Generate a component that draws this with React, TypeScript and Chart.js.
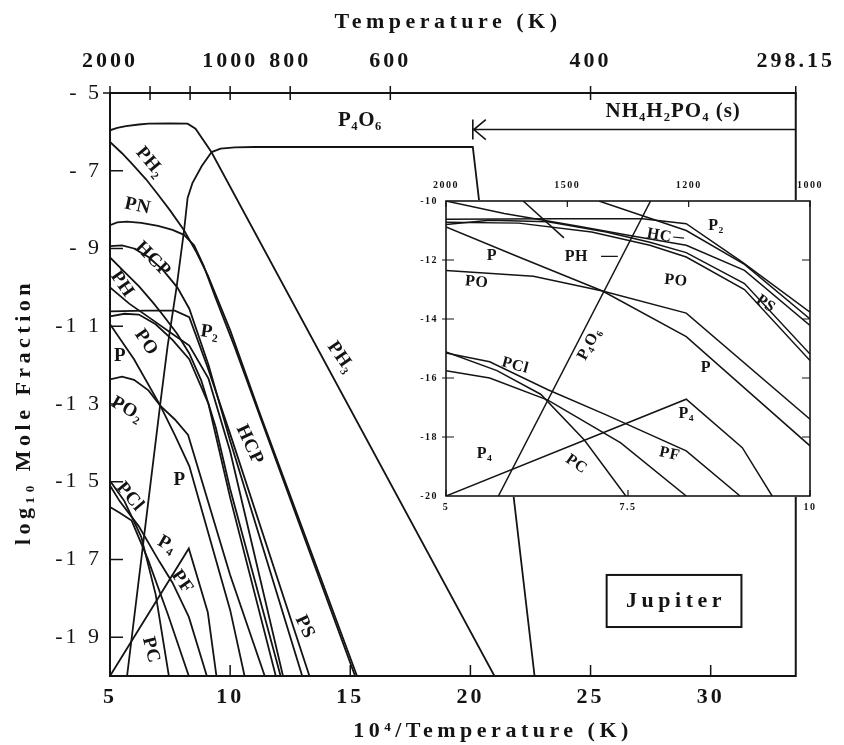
import React, { useEffect, useRef } from "react";
import { Chart, registerables } from "chart.js";

Chart.register(...registerables);

type Pt = [number, number];

const SERIF = '"Liberation Serif", "DejaVu Serif", "Times New Roman", serif';
const INK = "#141414";

// ---------- main chart data (x = 10^4/T, y = log10 mole fraction) ----------
const XMAX = 1e4 / 298.15;

const PH3: Pt[] = [[5, -5.96], [5.3, -5.9], [5.66, -5.85], [6.2, -5.81], [6.6, -5.79], [7.5, -5.78], [8.23, -5.79], [8.56, -5.92], [9.22, -6.52], [21.0, -20]];
const P4O6: Pt[] = [[5.71, -20], [6.4, -16.5], [7.1, -12.96], [7.4, -11.5], [7.77, -10.0], [8.08, -8.55], [8.23, -7.7], [8.43, -7.32], [8.82, -6.88], [9.23, -6.52], [9.6, -6.43], [10.2, -6.4], [11.0, -6.39], [20.1, -6.39], [22.67, -20]];
const PH2: Pt[] = [[5, -6.26], [5.5, -6.55], [5.91, -6.82], [6.5, -7.22], [6.98, -7.6], [7.5, -8.02], [8.08, -8.53], [8.6, -9.1], [9.07, -9.69], [10.0, -11.1], [11.21, -13.2], [15.28, -20]];
const PN: Pt[] = [[5, -8.4], [5.3, -8.33], [5.7, -8.31], [6.3, -8.34], [7.0, -8.42], [7.6, -8.52], [8.08, -8.65], [8.5, -8.92], [8.9, -9.45], [9.4, -10.28], [10.2, -11.55], [11.3, -13.42], [15.2, -20]];
const HCP: Pt[] = [[5, -8.94], [5.5, -8.92], [6.0, -9.0], [6.6, -9.22], [7.2, -9.55], [7.8, -10.0], [8.3, -10.55], [9.1, -12.0], [10, -13.95], [13.0, -20]];
const PS: Pt[] = [[5, -10.0], [5.8, -10.42], [6.8, -10.85], [7.6, -11.2], [8.3, -11.5], [9.1, -12.35], [10, -14.22], [12.2, -20]];
const PH: Pt[] = [[5, -9.23], [5.6, -9.6], [6.2, -9.97], [6.8, -10.4], [7.25, -10.75], [7.8, -11.2], [8.3, -11.7], [8.8, -12.4], [9.4, -13.6], [10, -15.19], [12.1, -20]];
const P2: Pt[] = [[5, -10.62], [6.5, -10.6], [7.7, -10.6], [8.3, -10.77], [9.07, -12.07], [10, -13.77], [13.3, -20]];
const PO: Pt[] = [[5, -10.75], [5.6, -10.68], [6.2, -10.7], [6.9, -10.95], [7.6, -11.35], [8.3, -11.85], [9.1, -13.0], [10, -15.41], [11.9, -20]];
const P: Pt[] = [[5, -10.95], [6.0, -11.85], [7.1, -13.05], [7.7, -13.8], [8.3, -14.6], [10, -18.3], [10.6, -20]];
const PO2: Pt[] = [[5, -12.37], [5.5, -12.3], [6.0, -12.38], [6.6, -12.65], [7.1, -13.05], [7.7, -13.4], [8.25, -13.8], [10, -17.4], [11.44, -20]];
const PC: Pt[] = [[5, -14.98], [5.6, -15.5], [6.3, -16.42], [6.9, -17.9], [7.45, -20]];
const PF: Pt[] = [[5, -15.1], [5.4, -15.5], [6.2, -16.15], [7.05, -17.05], [7.6, -17.6], [8.28, -18.48], [9.03, -20]];
const PCl: Pt[] = [[5, -15.65], [5.4, -15.8], [5.9, -16.0], [6.58, -17.0], [7.4, -18.4], [8.28, -20]];
const P4: Pt[] = [[5, -20], [8.28, -16.72], [9.07, -18.36], [9.43, -20]];

const mainSeries: { name: string; pts: Pt[] }[] = [
  { name: "PH3", pts: PH3 }, { name: "P4O6", pts: P4O6 }, { name: "PH2", pts: PH2 },
  { name: "PN", pts: PN }, { name: "HCP", pts: HCP }, { name: "PS", pts: PS },
  { name: "PH", pts: PH }, { name: "P2", pts: P2 }, { name: "PO", pts: PO },
  { name: "P", pts: P }, { name: "PO2", pts: PO2 }, { name: "PC", pts: PC },
  { name: "PF", pts: PF }, { name: "PCl", pts: PCl }, { name: "P4", pts: P4 },
];

const bottomTicks = [5, 10, 15, 20, 25, 30];
const bottomTickLabels = ["5", "10", "15", "20", "25", "30"];
const topTempTicks = [2000, 1500, 1200, 1000, 800, 600, 400, 298.15];
const topTempLabels = ["2000", "", "", "1000", "800", "600", "400", "298.15"];
const yTicks = [-5, -7, -9, -11, -13, -15, -17, -19];
const yTickLabels = ["- 5", "- 7", "- 9", "-1 1", "-1 3", "-1 5", "-1 7", "-1 9"];

const mainLabels = [
  { t: "PH₂", x: 6.66, y: -6.78, r: 50 },
  { t: "PN", x: 6.15, y: -7.91, r: 12 },
  { t: "HCP", x: 6.78, y: -9.28, r: 45 },
  { t: "PH", x: 5.5, y: -9.92, r: 55 },
  { t: "PO", x: 6.5, y: -11.42, r: 55 },
  { t: "P", x: 5.42, y: -11.78, r: 0 },
  { t: "P₂", x: 9.15, y: -11.16, r: 8 },
  { t: "PO₂", x: 5.71, y: -13.14, r: 30 },
  { t: "P", x: 7.89, y: -14.95, r: 0 },
  { t: "HCP", x: 10.81, y: -14.05, r: 65 },
  { t: "PCl", x: 5.83, y: -15.39, r: 50 },
  { t: "P₄", x: 7.37, y: -16.62, r: 30 },
  { t: "PF", x: 8.0, y: -17.58, r: 55 },
  { t: "PC", x: 6.7, y: -19.33, r: 75 },
  { t: "PS", x: 13.1, y: -18.74, r: 65 },
  { t: "PH₃", x: 14.6, y: -11.8, r: 55 },
];
const p4o6Label = { t: "P₄O₆", x: 15.4, y: -5.72 };
const nhLabel = { t: "NH₄H₂PO₄ (s)", x: 28.44, y: -5.49 };
const nhArrow = { x: 20.1, y: -5.94 };
const jupiterBox = { t: "Jupiter", x1: 25.67, x2: 31.28, y1: -17.4, y2: -18.74 };

// ---------- inset data ----------
const insP2: Pt[] = [[5, -10.62], [6.5, -10.6], [7.7, -10.6], [8.3, -10.77], [9.07, -12.07], [10, -13.77]];
const insHC: Pt[] = [[7.1, -10.0], [7.7, -10.5], [8.3, -11.0], [9.1, -12.15], [10, -14.0]];
const insPS: Pt[] = [[5, -10.0], [5.8, -10.42], [6.8, -10.85], [7.6, -11.2], [8.3, -11.5], [9.1, -12.35], [10, -14.22]];
const insPH: Pt[] = [[5, -10.8], [5.6, -10.65], [6.4, -10.7], [7.2, -11.05], [7.8, -11.4], [8.3, -11.75], [9.1, -12.8], [10, -15.19]];
const insPO: Pt[] = [[5, -10.72], [6.0, -10.75], [7.0, -11.05], [7.8, -11.5], [8.3, -11.9], [9.1, -13.0], [10, -15.41]];
const insSeg: Pt[] = [[6.06, -10.0], [6.62, -11.25]];
const insP: Pt[] = [[5, -10.88], [6.0, -11.9], [7.15, -13.05], [8.3, -14.6], [10, -18.3]];
const insPO2: Pt[] = [[5, -12.36], [6.2, -12.55], [7.15, -13.05], [8.3, -13.8], [10, -17.4]];
const insP4O6: Pt[] = [[5.72, -20], [7.81, -10]];
const insPC: Pt[] = [[5, -15.12], [5.7, -15.75], [6.3, -16.55], [6.9, -18.1], [7.47, -20]];
const insPF: Pt[] = [[5, -15.15], [5.6, -15.45], [6.4, -16.4], [7.2, -17.25], [8.3, -18.47], [9.04, -20]];
const insPCl: Pt[] = [[5, -15.75], [5.6, -16.0], [6.4, -16.75], [7.4, -18.2], [8.3, -20]];
const insP4: Pt[] = [[5, -20], [8.3, -16.72], [9.07, -18.36], [9.48, -20]];

const insetSeries: { name: string; pts: Pt[] }[] = [
  { name: "P2", pts: insP2 }, { name: "HC", pts: insHC }, { name: "PS", pts: insPS },
  { name: "PH", pts: insPH }, { name: "PO", pts: insPO }, { name: "seg", pts: insSeg },
  { name: "P", pts: insP }, { name: "PO2", pts: insPO2 }, { name: "P4O6", pts: insP4O6 },
  { name: "PC", pts: insPC }, { name: "PF", pts: insPF }, { name: "PCl", pts: insPCl },
  { name: "P4", pts: insP4 },
];

const insetBottomTicks = [5, 7.5, 10];
const insetBottomLabels = ["5", "7.5", "10"];
const insetTopTemps = [2000, 1500, 1200, 1000];
const insetTopLabels = ["2000", "1500", "1200", "1000"];
const insetYTicks = [-10, -12, -14, -16, -18, -20];
const insetYLabels = ["-10", "-12", "-14", "-16", "-18", "-20"];

const insetLabels = [
  { t: "P₂", x: 8.71, y: -10.83, r: 0 },
  { t: "HC", x: 7.93, y: -11.17, r: 10 },
  { t: "PH", x: 6.79, y: -11.9, r: 0 },
  { t: "P", x: 5.63, y: -11.85, r: 0 },
  { t: "PO", x: 5.42, y: -12.75, r: 5 },
  { t: "PO", x: 8.16, y: -12.7, r: 5 },
  { t: "PS", x: 9.39, y: -13.49, r: 35 },
  { t: "P₄O₆", x: 6.97, y: -14.85, r: -62 },
  { t: "P", x: 8.57, y: -15.64, r: 0 },
  { t: "PCl", x: 5.95, y: -15.58, r: 15 },
  { t: "P₄", x: 8.3, y: -17.22, r: 0 },
  { t: "PF", x: 8.07, y: -18.58, r: 12 },
  { t: "PC", x: 6.79, y: -18.92, r: 35 },
  { t: "P₄", x: 5.53, y: -18.58, r: 0 },
];
const insetLeaders = [
  { x1: 7.13, y1: -11.88, x2: 7.36, y2: -11.88 },
  { x1: 8.12, y1: -11.22, x2: 8.27, y2: -11.26 },
];

// ---------- helpers ----------
function drawRot(ctx: CanvasRenderingContext2D, t: string, x: number, y: number, r: number) {
  ctx.save();
  ctx.translate(x, y);
  ctx.rotate((r * Math.PI) / 180);
  ctx.fillText(t, 0, 0);
  ctx.restore();
}

function toDatasets(series: { name: string; pts: Pt[] }[], width: number) {
  return series.map((s) => ({
    label: s.name,
    data: s.pts.map(([x, y]) => ({ x, y })),
    borderColor: INK,
    backgroundColor: INK,
    borderWidth: width,
    pointRadius: 0,
    tension: 0,
    fill: false,
    xAxisID: "x",
    yAxisID: "y",
  }));
}

const mainDecor = {
  id: "mainDecor",
  beforeDraw(chart: any) {
    chart.ctx.letterSpacing = "3px";
  },
  afterDraw(chart: any) {
    const { ctx, chartArea: a } = chart;
    const sx = chart.scales.x, sy = chart.scales.y;
    const X = (v: number) => sx.getPixelForValue(v);
    const Y = (v: number) => sy.getPixelForValue(v);
    ctx.save();
    ctx.letterSpacing = "0px";
    ctx.strokeStyle = INK;
    ctx.lineWidth = 2;
    ctx.strokeRect(a.left, a.top, a.right - a.left, a.bottom - a.top);
    ctx.lineWidth = 1.5;
    ctx.beginPath();
    topTempTicks.forEach((T) => {
      const px = X(1e4 / T);
      ctx.moveTo(px, a.top - 7);
      ctx.lineTo(px, a.top + 7);
    });
    yTicks.forEach((v) => {
      const py = Y(v);
      ctx.moveTo(a.left - (v === -5 ? 7 : 0), py);
      ctx.lineTo(a.left + 13, py);
    });
    bottomTicks.forEach((v) => {
      if (v === 5) return;
      const px = X(v);
      ctx.moveTo(px, a.bottom);
      ctx.lineTo(px, a.bottom - 11);
    });
    ctx.stroke();

    // NH4H2PO4 arrow
    const ax = X(nhArrow.x), ay = Y(nhArrow.y);
    ctx.lineWidth = 1.6;
    ctx.beginPath();
    ctx.moveTo(ax, ay);
    ctx.lineTo(a.right, ay);
    ctx.moveTo(ax, ay - 10);
    ctx.lineTo(ax, ay + 10);
    ctx.moveTo(ax + 13, ay - 10);
    ctx.lineTo(ax + 1, ay);
    ctx.lineTo(ax + 13, ay + 10);
    ctx.stroke();

    ctx.fillStyle = INK;
    ctx.textAlign = "center";
    ctx.textBaseline = "middle";

    // species labels
    ctx.font = `bold 19px ${SERIF}`;
    ctx.letterSpacing = "0.5px";
    mainLabels.forEach((l) => drawRot(ctx, l.t, X(l.x), Y(l.y), l.r));
    ctx.font = `bold 21px ${SERIF}`;
    ctx.fillText(p4o6Label.t, X(p4o6Label.x), Y(p4o6Label.y));
    ctx.font = `bold 21px ${SERIF}`;
    ctx.letterSpacing = "1px";
    ctx.fillText(nhLabel.t, X(nhLabel.x), Y(nhLabel.y));

    // Jupiter box
    const bx1 = X(jupiterBox.x1), bx2 = X(jupiterBox.x2);
    const by1 = Y(jupiterBox.y1), by2 = Y(jupiterBox.y2);
    ctx.lineWidth = 2;
    ctx.strokeRect(bx1, by1, bx2 - bx1, by2 - by1);
    ctx.font = `bold 22px ${SERIF}`;
    ctx.letterSpacing = "4.5px";
    ctx.fillText(jupiterBox.t, (bx1 + bx2) / 2 + 2, (by1 + by2) / 2);

    // axis titles
    ctx.font = `bold 22px ${SERIF}`;
    ctx.letterSpacing = "4.5px";
    ctx.fillText("Temperature (K)", 448, 22);
    ctx.fillText("10⁴/Temperature (K)", 493, 731);
    drawRot(ctx, "log₁₀ Mole Fraction", 24, 412, -90);
    ctx.restore();
  },
};

const insetDecor = {
  id: "insetDecor",
  beforeDraw(chart: any) {
    const { ctx, chartArea: a } = chart;
    ctx.save();
    ctx.fillStyle = "#ffffff";
    ctx.fillRect(a.left - 1, a.top - 1, a.right - a.left + 2, a.bottom - a.top + 2);
    ctx.restore();
    ctx.letterSpacing = "1.5px";
  },
  afterDraw(chart: any) {
    const { ctx, chartArea: a } = chart;
    const sx = chart.scales.x, sy = chart.scales.y;
    const X = (v: number) => sx.getPixelForValue(v);
    const Y = (v: number) => sy.getPixelForValue(v);
    ctx.save();
    ctx.letterSpacing = "0px";
    ctx.strokeStyle = INK;
    ctx.lineWidth = 1.6;
    ctx.strokeRect(a.left, a.top, a.right - a.left, a.bottom - a.top);
    ctx.lineWidth = 1.2;
    ctx.beginPath();
    insetYTicks.forEach((v) => {
      if (v === -10 || v === -20) return;
      const py = Y(v);
      ctx.moveTo(a.left - 4, py);
      ctx.lineTo(a.left + 8, py);
      ctx.moveTo(a.right, py);
      ctx.lineTo(a.right - 8, py);
    });
    insetTopTemps.forEach((T) => {
      const px = X(1e4 / T);
      ctx.moveTo(px, a.top);
      ctx.lineTo(px, a.top + 6);
    });
    insetBottomTicks.forEach((v) => {
      const px = X(v);
      ctx.moveTo(px, a.bottom);
      ctx.lineTo(px, a.bottom - 6);
    });
    insetLeaders.forEach((l) => {
      ctx.moveTo(X(l.x1), Y(l.y1));
      ctx.lineTo(X(l.x2), Y(l.y2));
    });
    ctx.stroke();
    ctx.fillStyle = INK;
    ctx.textAlign = "center";
    ctx.textBaseline = "middle";
    ctx.font = `bold 16px ${SERIF}`;
    ctx.letterSpacing = "0.5px";
    insetLabels.forEach((l) => drawRot(ctx, l.t, X(l.x), Y(l.y), l.r));
    ctx.restore();
  },
};

function mainConfig(): any {
  return {
    type: "line",
    data: { datasets: toDatasets(mainSeries, 1.8) },
    options: {
      responsive: false,
      animation: false,
      devicePixelRatio: 1,
      events: [],
      layout: { padding: { left: 0, right: 16, top: 0, bottom: 0 }, autoPadding: false },
      plugins: { legend: { display: false }, tooltip: { enabled: false } },
      scales: {
        x: {
          type: "linear",
          position: "bottom",
          min: 5,
          max: XMAX,
          grid: { display: false, drawTicks: false },
          border: { display: false },
          ticks: {
            font: { family: SERIF, size: 22, weight: "bold" },
            color: INK,
            padding: 8,
            maxRotation: 0,
            autoSkip: false,
            callback: (_v: number, i: number) => bottomTickLabels[i],
          },
          afterBuildTicks: (s: any) => {
            s.ticks = bottomTicks.map((v) => ({ value: v }));
          },
          afterFit: (s: any) => {
            s.height = 69;
          },
        },
        x2: {
          type: "linear",
          position: "top",
          min: 5,
          max: XMAX,
          grid: { display: false, drawTicks: false },
          border: { display: false },
          ticks: {
            font: { family: SERIF, size: 22, weight: "bold" },
            color: INK,
            padding: 18,
            maxRotation: 0,
            autoSkip: false,
            callback: (_v: number, i: number) => topTempLabels[i],
          },
          afterBuildTicks: (s: any) => {
            s.ticks = topTempTicks.map((T) => ({ value: 1e4 / T }));
          },
          afterFit: (s: any) => {
            s.height = 93;
          },
        },
        y: {
          type: "linear",
          position: "left",
          min: -20,
          max: -5,
          grid: { display: false, drawTicks: false },
          border: { display: false },
          ticks: {
            font: { family: SERIF, size: 22 },
            color: INK,
            padding: 8,
            autoSkip: false,
            callback: (_v: number, i: number) => yTickLabels[i],
          },
          afterBuildTicks: (s: any) => {
            s.ticks = yTicks.map((v) => ({ value: v }));
          },
          afterFit: (s: any) => {
            s.width = 110;
          },
        },
      },
    },
    plugins: [mainDecor],
  };
}

function insetConfig(): any {
  return {
    type: "line",
    data: { datasets: toDatasets(insetSeries, 1.5) },
    options: {
      responsive: false,
      animation: false,
      devicePixelRatio: 1,
      events: [],
      layout: { padding: { left: 0, right: 18, top: 0, bottom: 0 }, autoPadding: false },
      plugins: { legend: { display: false }, tooltip: { enabled: false } },
      scales: {
        x: {
          type: "linear",
          position: "bottom",
          min: 5,
          max: 10,
          grid: { display: false, drawTicks: false },
          border: { display: false },
          ticks: {
            font: { family: SERIF, size: 10, weight: "bold" },
            color: INK,
            padding: 5,
            maxRotation: 0,
            autoSkip: false,
            callback: (_v: number, i: number) => insetBottomLabels[i],
          },
          afterBuildTicks: (s: any) => {
            s.ticks = insetBottomTicks.map((v) => ({ value: v }));
          },
          afterFit: (s: any) => {
            s.height = 24;
          },
        },
        x2: {
          type: "linear",
          position: "top",
          min: 5,
          max: 10,
          grid: { display: false, drawTicks: false },
          border: { display: false },
          ticks: {
            font: { family: SERIF, size: 10, weight: "bold" },
            color: INK,
            padding: 10,
            maxRotation: 0,
            autoSkip: false,
            callback: (_v: number, i: number) => insetTopLabels[i],
          },
          afterBuildTicks: (s: any) => {
            s.ticks = insetTopTemps.map((T) => ({ value: 1e4 / T }));
          },
          afterFit: (s: any) => {
            s.height = 31;
          },
        },
        y: {
          type: "linear",
          position: "left",
          min: -20,
          max: -10,
          grid: { display: false, drawTicks: false },
          border: { display: false },
          ticks: {
            font: { family: SERIF, size: 10, weight: "bold" },
            color: INK,
            padding: 8,
            autoSkip: false,
            callback: (_v: number, i: number) => insetYLabels[i],
          },
          afterBuildTicks: (s: any) => {
            s.ticks = insetYTicks.map((v) => ({ value: v }));
          },
          afterFit: (s: any) => {
            s.width = 46;
          },
        },
      },
    },
    plugins: [insetDecor],
  };
}

export default function App() {
  const mainRef = useRef<HTMLCanvasElement>(null);
  const insetRef = useRef<HTMLCanvasElement>(null);
  useEffect(() => {
    const main = new Chart(mainRef.current as HTMLCanvasElement, mainConfig());
    const inset = new Chart(insetRef.current as HTMLCanvasElement, insetConfig());
    return () => {
      main.destroy();
      inset.destroy();
    };
  }, []);
  return (
    <div style={{ position: "absolute", left: 0, top: 0, width: 844, height: 745, background: "#ffffff", overflow: "hidden" }}>
      <canvas ref={mainRef} width={844} height={745} style={{ position: "absolute", left: 0, top: 0 }} />
      <canvas ref={insetRef} width={430} height={350} style={{ position: "absolute", left: 400, top: 170 }} />
    </div>
  );
}
